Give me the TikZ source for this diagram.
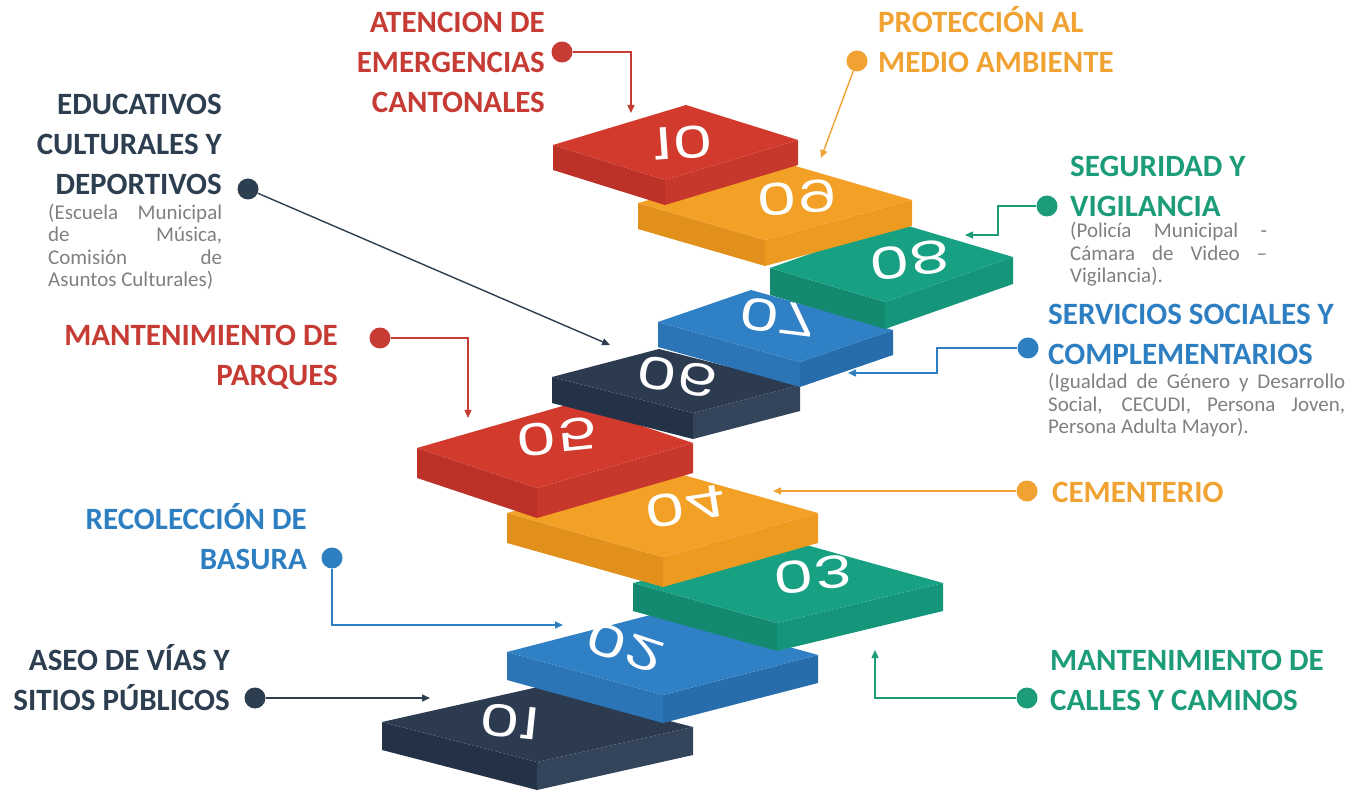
\documentclass[tikz,border=0pt]{standalone}
\usepackage{graphicx}
\usepackage{fontspec}
\setmainfont{Carlito}
\newfontfamily\digitfont{Poppins}
\usetikzlibrary{calc,arrows.meta}

\definecolor{navytop}{HTML}{2C3B50}
\definecolor{navyfront}{HTML}{243247}
\definecolor{navyright}{HTML}{33445B}
\definecolor{bluetop}{HTML}{2F80C4}
\definecolor{bluefront}{HTML}{2B74B6}
\definecolor{blueright}{HTML}{286DAB}
\definecolor{greentop}{HTML}{18A083}
\definecolor{greenfront}{HTML}{138A70}
\definecolor{greenright}{HTML}{15957A}
\definecolor{orangetop}{HTML}{F2A126}
\definecolor{orangefront}{HTML}{E0901B}
\definecolor{orangeright}{HTML}{EC9A20}
\definecolor{redtop}{HTML}{D13A2D}
\definecolor{redfront}{HTML}{BC3128}
\definecolor{redright}{HTML}{C7372C}
\definecolor{cred}{HTML}{C63C35}
\definecolor{corange}{HTML}{F0A232}
\definecolor{cgreen}{HTML}{1C9C79}
\definecolor{cblue}{HTML}{2E7FC2}
\definecolor{cnavy}{HTML}{2C3E50}
\definecolor{cgray}{HTML}{808080}

\newcommand\stair[6]{%
  \coordinate (#6L) at (#1);
  \coordinate (#6F) at (#2);
  \coordinate (#6R) at (#3);
  \coordinate (#6B) at ($(#6L)+(#6R)-(#6F)$);
  \fill[#5front] (#6L) -- (#6F) -- ($(#6F)+(0,#4)$) -- ($(#6L)+(0,#4)$) -- cycle;
  \fill[#5right] (#6F) -- (#6R) -- ($(#6R)+(0,#4)$) -- ($(#6F)+(0,#4)$) -- cycle;
  \fill[#5top] (#6L) -- (#6F) -- (#6R) -- (#6B) -- cycle;
}
\newcommand\stepnum[1]{\scalebox{1.25}[-0.85]{#1}}

\begin{document}
\begin{tikzpicture}[x=1pt,y=-1pt,
  lbl/.style={font=\bfseries\fontsize{31}{40}\selectfont, inner sep=0},
  subtxt/.style={font=\fontsize{21}{22.6}\selectfont, text=cgray, inner sep=0, align=left},
  ldot/.style={circle, fill, minimum size=21pt, inner sep=0},
  conn/.style={line width=1.4pt, -{Triangle[length=8pt,width=7pt]}},
  digit/.style={font=\digitfont\fontsize{52}{52}\selectfont, text=white, inner sep=0}]
\useasboundingbox (0,0) rectangle (1363,799);

% steps
\stair{382,722}{537,762}{693,727}{28}{navy}{s1}
\stair{507,652}{663,695}{818,655}{28}{blue}{s2}
\stair{633,583}{777,623}{943,583}{28}{green}{s3}
\stair{507,513}{663,557}{818,513}{30}{orange}{s4}
\stair{417,448}{537,488}{693,443}{30}{red}{s5}
\stair{552,377}{693,413}{800,385}{26}{navy}{s6}
\stair{658,322}{800,362}{893,330}{25}{blue}{s7}
\stair{770,268}{885,302}{1013,257}{27}{green}{s8}
\stair{638,203}{765,240}{912,200}{26}{orange}{s9}
\stair{553,145}{665,180}{798,140}{25}{red}{s10}

% numbers
\node[rotate=-6, digit] (n1) at (510,722) {\stepnum{01}};
\node[rotate=-18, digit] (n2) at (625,647) {\stepnum{02}};
\node[rotate=7, digit] (n3) at (813,575) {\stepnum{03}};
\node[rotate=9, digit] (n4) at (685,507) {\stepnum{04}};
\node[rotate=6, digit] (n5) at (557,437) {\stepnum{05}};
\node[rotate=-9, digit] (n6) at (677,377) {\stepnum{06}};
\node[rotate=-7, digit] (n7) at (777,317) {\stepnum{07}};
\node[rotate=7, digit] (n8) at (910,260) {\stepnum{08}};
\node[rotate=4, digit] (n9) at (797,198) {\stepnum{09}};
\node[rotate=4, digit] (n10) at (683,143) {\stepnum{10}};

% dots
\node[ldot, fill=cred] (d10) at (562,52) {};
\node[ldot, fill=corange] (d9) at (857,61) {};
\node[ldot, fill=cgreen] (d8) at (1047,206) {};
\node[ldot, fill=cblue] (d7) at (1028,348) {};
\node[ldot, fill=cnavy] (d6) at (248,189) {};
\node[ldot, fill=cred] (d5) at (380,338) {};
\node[ldot, fill=corange] (d4) at (1027,491) {};
\node[ldot, fill=cgreen] (d3) at (1027,698) {};
\node[ldot, fill=cblue] (d2) at (332,558) {};
\node[ldot, fill=cnavy] (d1) at (255,698) {};

% arrow targets and bends
\coordinate (a10) at (631,113);
\coordinate (a9) at (821,158);
\coordinate (k8) at (998,206);
\coordinate (a8) at (965,235);
\coordinate (k7) at (937,348);
\coordinate (a7) at (848,373);
\coordinate (a6) at (610,345);
\coordinate (a5) at (468,418);
\coordinate (a4) at (773,491);
\coordinate (a3) at (875,650);
\coordinate (a2) at (563,625);
\coordinate (a1) at (430,698);

% connectors
\draw[conn, cred] (d10) -| (a10);
\draw[conn, corange] (d9) -- (a9);
\draw[conn, cgreen] (d8) -- (k8) |- (a8);
\draw[conn, cblue] (d7) -- (k7) |- (a7);
\draw[conn, cnavy] (d6) -- (a6);
\draw[conn, cred] (d5) -| (a5);
\draw[conn, corange] (d4) -- (a4);
\draw[conn, cgreen] (d3) -| (a3);
\draw[conn, cblue] (d2) |- (a2);
\draw[conn, cnavy] (d1) -- (a1);

% labels (anchor base = baseline of the last line)
\node[lbl, text=cred, align=right, anchor=base east] (t10) at (545,113) {ATENCION DE\\EMERGENCIAS\\CANTONALES};
\node[lbl, text=corange, align=left, anchor=base west] (t9) at (878,73) {PROTECCIÓN AL\\MEDIO AMBIENTE};
\node[lbl, text=cnavy, align=right, anchor=base east] (t6) at (222,195) {EDUCATIVOS\\CULTURALES Y\\DEPORTIVOS};
\node[subtxt, anchor=base west] (s6) at (48,287) {\makebox[174pt][s]{(Escuela Municipal}\\\makebox[174pt][s]{de Música,}\\\makebox[174pt][s]{Comisión de}\\Asuntos Culturales)};
\node[lbl, text=cgreen, align=left, anchor=base west] (t8) at (1070,217) {SEGURIDAD Y\\VIGILANCIA};
\node[subtxt, anchor=base west] (s8) at (1070,283) {\makebox[197pt][s]{(Policía Municipal -}\\\makebox[197pt][s]{Cámara de Video –}\\Vigilancia).};
\node[lbl, text=cblue, align=left, anchor=base west] (t7) at (1048,365) {SERVICIOS SOCIALES Y\\COMPLEMENTARIOS};
\node[subtxt, anchor=base west] (s7) at (1048,434) {\makebox[297pt][s]{(Igualdad de Género y Desarrollo}\\\makebox[297pt][s]{Social, CECUDI, Persona Joven,}\\Persona Adulta Mayor).};
\node[lbl, text=cred, align=right, anchor=base east] (t5) at (338,386) {MANTENIMIENTO DE\\PARQUES};
\node[lbl, text=corange, anchor=base west] (t4) at (1052,502) {CEMENTERIO};
\node[lbl, text=cblue, align=right, anchor=base east] (t2) at (307,569) {RECOLECCIÓN DE\\BASURA};
\node[lbl, text=cgreen, align=left, anchor=base west] (t3) at (1050,710) {MANTENIMIENTO DE\\CALLES Y CAMINOS};
\node[lbl, text=cnavy, align=right, anchor=base east] (t1) at (230,710) {ASEO DE VÍAS Y\\SITIOS PÚBLICOS};
\end{tikzpicture}
\end{document}
